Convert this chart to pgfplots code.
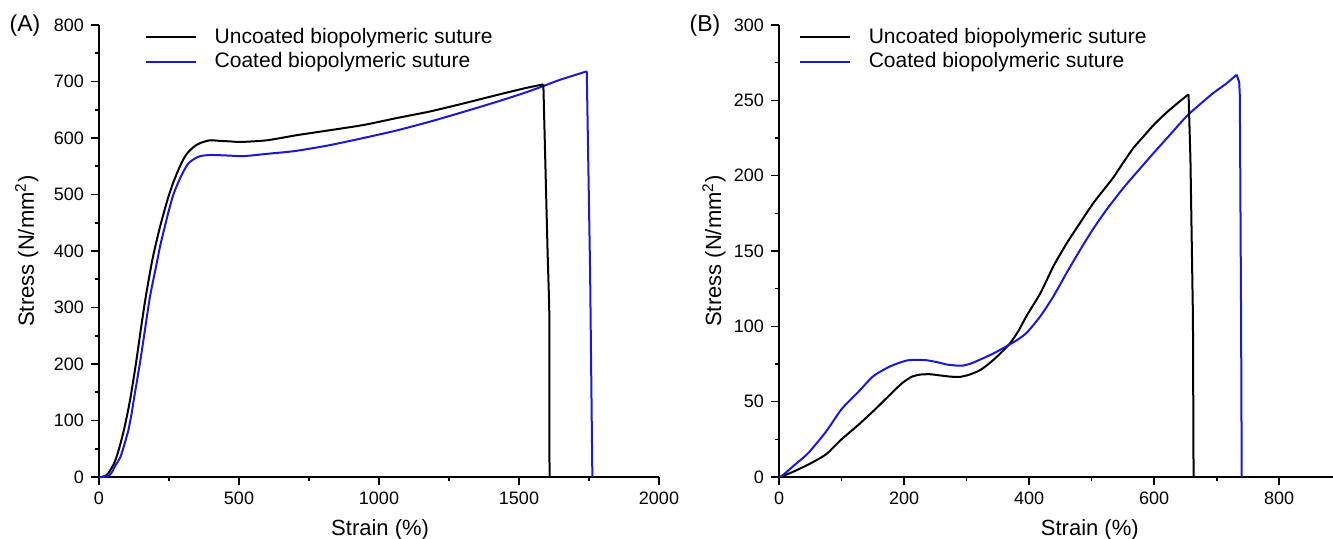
\documentclass[border=0pt]{standalone}
\usepackage{fontspec}
\setmainfont{Liberation Sans}
\usepackage{pgfplots}
\pgfplotsset{compat=1.18}
\definecolor{cblue}{RGB}{25,25,215}
\pgfplotsset{
  myaxis/.style={
    scale only axis, height=226pt,
    axis x line=bottom, axis y line=left,
    axis line style={-, line width=0.9pt},
    tick align=outside,
    major tick length=4pt, minor tick length=2.2pt,
    every tick/.style={black, line width=0.8pt},
    minor tick num=1,
    tick label style={font=\fontsize{9}{10}\selectfont},
    /pgf/number format/assume math mode=true,
    /pgf/number format/1000 sep={},
    label style={font=\fontsize{11}{13}\selectfont},
    legend style={draw=none, fill=none, font=\fontsize{10.5}{12}\selectfont,
      anchor=north west, inner sep=0pt, row sep=1.7pt,
      nodes={inner sep=0.7pt}},
    legend cell align=left,
    legend image code/.code={\draw[#1] (0pt,0pt) -- (25pt,0pt); \path (33pt,0pt);},
    clip=false,
    every axis plot/.append style={line width=1pt, line join=round},
  }
}
\begin{document}
\begin{tikzpicture}
\useasboundingbox (0,0) rectangle (666.5pt,269pt);
\node[font=\fontsize{11.5}{13}\selectfont, anchor=base] at (12.5pt,253.5pt) {(A)};
\node[font=\fontsize{11.5}{13}\selectfont, anchor=base] at (352.5pt,253.5pt) {(B)};
\begin{axis}[myaxis, at={(49.5pt,30.5pt)}, anchor=south west, width=280pt,
  xmin=0, xmax=2000, ymin=0, ymax=800,
  xtick={0,500,...,2000}, ytick={0,100,...,800},
  xlabel={Strain (\%)}, ylabel={Stress (N/mm\textsuperscript{2})},
  xlabel style={at={(axis description cs:0.502,-0.1305)}, anchor=base},
  ylabel style={at={(axis description cs:-0.129,0.5)}, anchor=center},
  legend style={at={(axis description cs:0.082,0.997)}}]
\addplot[black, smooth, tension=0.4] coordinates {
(0,0) (10,0.3) (21,1.5) (32,6) (40,12) (52,22) (63,36) (76,58) (89,83)
(101,111) (113,142) (132,201) (149,260) (167,319) (188,378) (201,408)
(215,437) (231,467) (248,496) (265,521) (283,543) (299,560) (315,573)
(340,585) (361,591) (396,596) (430,595) (470,594) (506,593) (600,596)
(706,605) (800,612) (944,623) (1060,635) (1182,647) (1300,661)
(1420,676) (1520,688) (1587,695)};
\addlegendentry{Uncoated biopolymeric suture}
\addplot[cblue, smooth, tension=0.4] coordinates {
(0,0) (10,0) (20,0.5) (30,1.5) (39,4) (48,10) (58,20) (67,27) (77,36)
(91,58) (105,83) (116,111) (126,142) (146,201) (164,260) (182,319)
(206,378) (218,408) (232,437) (247,467) (263,496) (275,512) (287,526)
(303,542) (319,555) (340,563) (361,568) (400,570) (460,569) (518,568)
(600,572) (700,577) (820,587) (944,600) (1060,613) (1182,629) (1300,646)
(1420,664) (1520,680) (1587,692) (1646,703) (1742,718)};
\addlegendentry{Coated biopolymeric suture}
\addplot[black, forget plot] coordinates {(1587,695) (1602,400) (1608,301) (1609,0)};
\addplot[cblue, forget plot] coordinates {(1742,718) (1754,361) (1762,0)};
\end{axis}
\begin{axis}[myaxis, at={(389.5pt,30.5pt)}, anchor=south west, width=277pt,
  xmin=0, xmax=886, ymin=0, ymax=300,
  xtick={0,200,...,800}, ytick={0,50,...,300},
  xlabel={Strain (\%)}, ylabel={Stress (N/mm\textsuperscript{2})},
  xlabel style={at={(axis description cs:0.561,-0.1305)}, anchor=base},
  ylabel style={at={(axis description cs:-0.1173,0.5)}, anchor=center},
  legend style={at={(axis description cs:0.036,0.997)}}]
\addplot[black, smooth, tension=0.4] coordinates {
(0,0) (4,0.5) (20,3) (47,8.3) (75,15) (100,25) (128,35) (154,45) (176,54)
(196,62) (212,66.5) (226,68) (242,68.2) (258,67.4) (275,66.6) (290,66.5)
(305,68) (322,71) (338,76) (354,82) (370,89) (383,97) (396,107) (418,122)
(439,140) (460,155) (482,169) (503,182) (520,191) (535,199) (551,209)
(567,218.5) (585,227) (600,234) (620,242) (640,249) (655,254)};
\addlegendentry{Uncoated biopolymeric suture}
\addplot[cblue, smooth, tension=0.4] coordinates {
(0,0) (4,0.5) (25,8) (47,16) (75,30) (100,45) (128,57) (151,67)
(178,73.5) (204,77.3) (220,77.7) (236,77.5) (252,76.3) (268,74.7)
(283,74) (295,74) (308,75.5) (322,78) (343,82) (364,86.8) (381,91)
(396,95.7) (418,106.7) (439,120) (460,135.5) (482,151) (503,165)
(524,177.5) (551,192) (578,205) (599,215) (625,227) (652,239.5) (675,248)
(695,255) (715,261) (732,267)};
\addlegendentry{Coated biopolymeric suture}
\addplot[black, forget plot] coordinates {(655,254) (658,211) (662,106) (663,0)};
\addplot[cblue, forget plot] coordinates {(732,267) (736,262) (737,253) (739,106) (740,0)};
\end{axis}
\end{tikzpicture}
\end{document}
